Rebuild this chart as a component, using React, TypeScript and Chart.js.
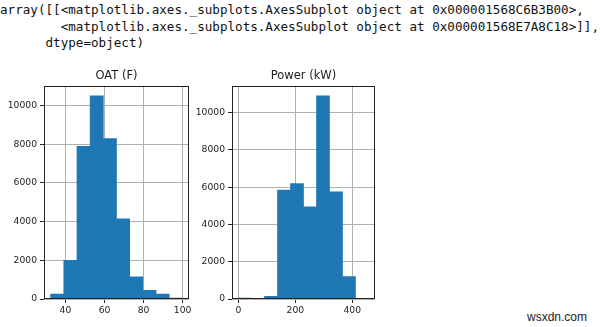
import React, { useEffect, useRef } from "react";
import { Chart, registerables } from "chart.js";

Chart.register(...registerables);

const headerLines = [
  "array([[<matplotlib.axes._subplots.AxesSubplot object at 0x000001568C6B3B00>,",
  "        <matplotlib.axes._subplots.AxesSubplot object at 0x000001568E7A8C18>]],",
  "      dtype=object)",
];

const watermark = "wsxdn.com";

const oatTitle = "OAT (F)";
const oatBinEdges = [32.4, 39.15, 45.9, 52.65, 59.4, 66.15, 72.9, 79.65, 86.4, 93.15, 99.9];
const oatCounts = [250, 2000, 7900, 10500, 8300, 4150, 1150, 450, 250, 50];
const oatXTicks = [40, 60, 80, 100];
const oatYTicks = [0, 2000, 4000, 6000, 8000, 10000];

const powerTitle = "Power (kW)";
const powerBinEdges = [0, 45.7, 91.4, 137.1, 182.8, 228.5, 274.2, 319.9, 365.6, 411.3, 457];
const powerCounts = [50, 0, 150, 5850, 6200, 4950, 10900, 5750, 1200, 30];
const powerXTicks = [0, 200, 400];
const powerYTicks = [0, 2000, 4000, 6000, 8000, 10000];

const BAR = "#1f77b4";
const GRID = "#b0b0b0";
const INK = "#222222";

const framePlugin = {
  id: "frame",
  afterDraw(chart: any) {
    const { ctx, chartArea: a } = chart;
    ctx.save();
    ctx.strokeStyle = INK;
    ctx.lineWidth = 1;
    const l = Math.round(a.left) + 0.5;
    const t = Math.round(a.top) + 0.5;
    const r = Math.round(a.right) - 0.5;
    const b = Math.round(a.bottom) - 0.5;
    ctx.strokeRect(l, t, r - l, b - t);
    ctx.restore();
  },
};

type HistProps = {
  left: number;
  top: number;
  width: number;
  height: number;
  title: string;
  edges: number[];
  counts: number[];
  xTicks: number[];
  yTicks: number[];
  yMax: number;
};

function Hist(p: HistProps) {
  const ref = useRef<HTMLCanvasElement>(null);
  useEffect(() => {
    const span = p.edges[p.edges.length - 1] - p.edges[0];
    const xMin = p.edges[0] - span * 0.05;
    const xMax = p.edges[p.edges.length - 1] + span * 0.05;
    const points = p.counts.map((c, i) => ({ x: (p.edges[i] + p.edges[i + 1]) / 2, y: c }));
    const tickFont = { family: "DejaVu Sans", size: 9.2 };
    const chart = new Chart(ref.current as HTMLCanvasElement, {
      type: "bar",
      data: {
        datasets: [
          {
            data: points as any,
            backgroundColor: BAR,
            borderWidth: 0,
            barPercentage: 1,
            categoryPercentage: 1,
          },
        ],
      },
      options: {
        animation: false,
        responsive: false,
        maintainAspectRatio: false,
        layout: { padding: { left: 0, right: 6, top: 0, bottom: 0 } },
        plugins: {
          legend: { display: false },
          tooltip: { enabled: false },
          title: {
            display: true,
            text: p.title,
            fullSize: false,
            color: INK,
            font: { family: "DejaVu Sans", size: 11.5, weight: "normal", lineHeight: 1.2 },
            padding: { top: 9, bottom: 3 },
          },
        },
        scales: {
          x: {
            type: "linear",
            min: xMin,
            max: xMax,
            offset: false,
            z: 1,
            grid: { offset: false, color: GRID, lineWidth: 1, tickColor: INK, tickLength: 4 },
            border: { display: false },
            ticks: {
              autoSkip: false,
              maxRotation: 0,
              padding: 2,
              color: INK,
              font: tickFont,
              callback: (v: any) => String(v),
            },
            afterBuildTicks: (s: any) => {
              s.ticks = p.xTicks.map((v) => ({ value: v }));
            },
            afterFit: (s: any) => {
              s.height = 21;
            },
          },
          y: {
            type: "linear",
            min: 0,
            max: p.yMax,
            z: 1,
            grid: { color: GRID, lineWidth: 1, tickColor: INK, tickLength: 4 },
            border: { display: false },
            ticks: {
              autoSkip: false,
              padding: 3,
              color: INK,
              font: tickFont,
              callback: (v: any) => String(v),
            },
            afterBuildTicks: (s: any) => {
              s.ticks = p.yTicks.map((v) => ({ value: v }));
            },
            afterFit: (s: any) => {
              s.width = 44;
            },
          },
        },
      } as any,
      plugins: [framePlugin],
    });
    return () => chart.destroy();
  }, []);
  return (
    <canvas
      ref={ref}
      width={p.width}
      height={p.height}
      style={{ position: "absolute", left: p.left, top: p.top, width: p.width, height: p.height }}
    />
  );
}

export default function App() {
  return (
    <div
      style={{
        position: "fixed",
        left: 0,
        top: 0,
        width: 600,
        height: 327,
        background: "#ffffff",
        overflow: "hidden",
      }}
    >
      {headerLines.map((line, i) => (
        <div
          key={i}
          style={{
            position: "absolute",
            left: 0,
            top: 2 + i * 16.6,
            whiteSpace: "pre",
            fontFamily: "'DejaVu Sans Mono', monospace",
            fontSize: 12.6,
            lineHeight: "16.6px",
            color: "#111",
          }}
        >
          {line}
        </div>
      ))}
      <Hist
        left={0}
        top={60}
        width={195}
        height={260}
        title={oatTitle}
        edges={oatBinEdges}
        counts={oatCounts}
        xTicks={oatXTicks}
        yTicks={oatYTicks}
        yMax={11025}
      />
      <Hist
        left={188}
        top={60}
        width={193}
        height={260}
        title={powerTitle}
        edges={powerBinEdges}
        counts={powerCounts}
        xTicks={powerXTicks}
        yTicks={powerYTicks}
        yMax={11445}
      />
      <div
        style={{
          position: "absolute",
          left: 527,
          top: 310,
          fontFamily: "'Liberation Sans', Arial, sans-serif",
          fontSize: 12,
          lineHeight: "15px",
          color: "#222",
        }}
      >
        {watermark}
      </div>
    </div>
  );
}
